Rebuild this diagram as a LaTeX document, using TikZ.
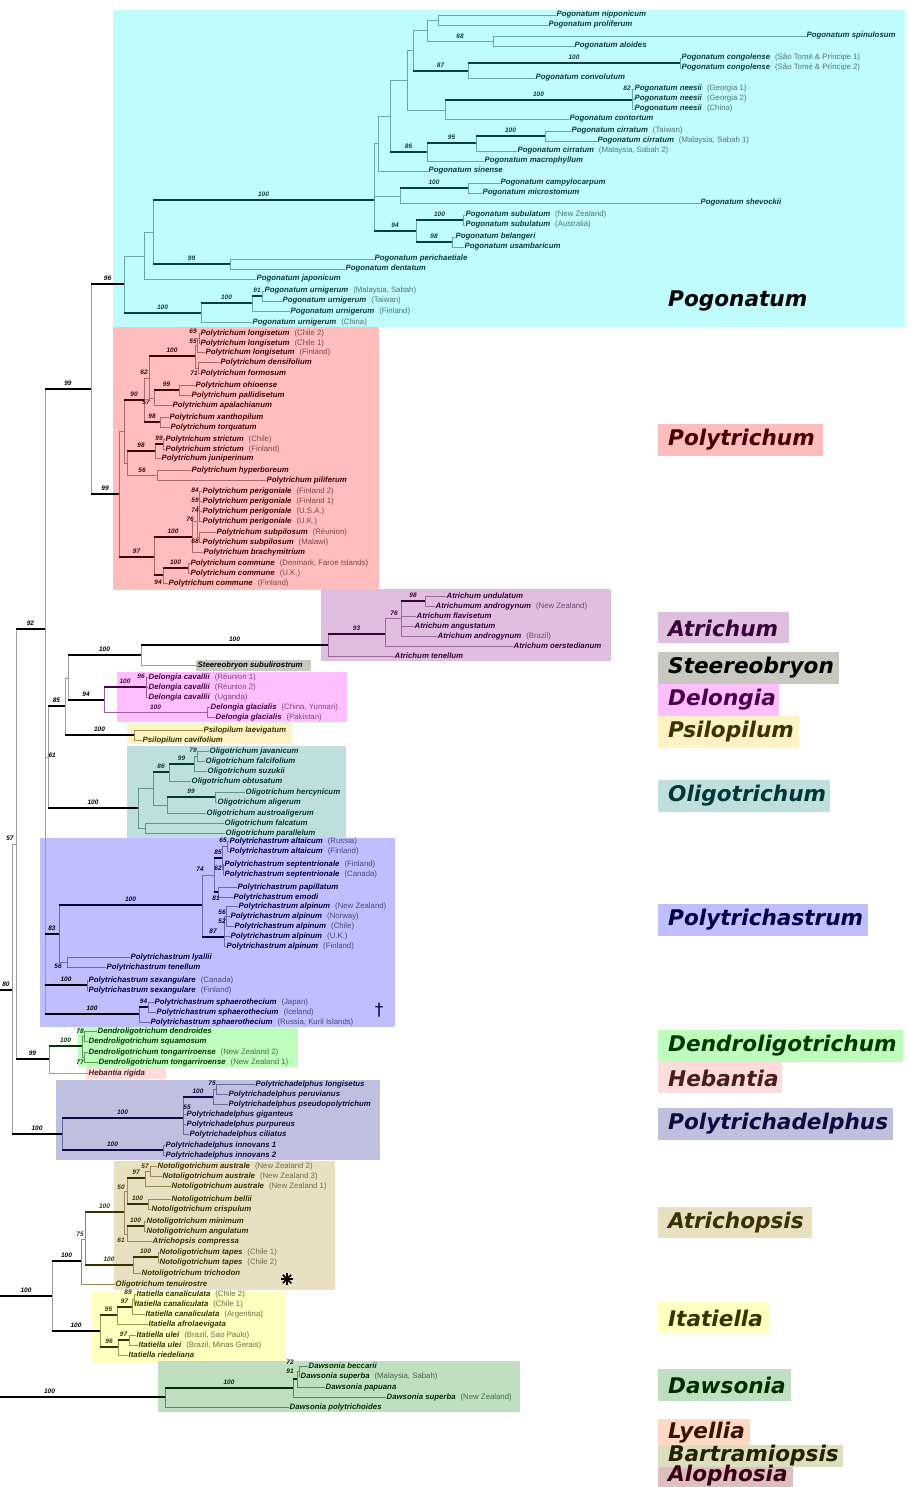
\documentclass[tikz,border=0pt]{standalone}
\usepackage{fontspec}
\setmainfont{Liberation Sans}
\newfontfamily\cladefont{DejaVu Sans Bold Oblique}
\newfontfamily\symfont{DejaVu Sans}
\usetikzlibrary{positioning}

\definecolor{pogB}{HTML}{C0FCFC}\definecolor{pogD}{HTML}{0C3C3C}\definecolor{pogL}{HTML}{66A8A8}
\definecolor{polB}{HTML}{FFBDBD}\definecolor{polD}{HTML}{4A0000}\definecolor{polL}{HTML}{B06868}
\definecolor{atrB}{HTML}{DFBEDF}\definecolor{atrD}{HTML}{3A003A}\definecolor{atrL}{HTML}{9A6A9A}
\definecolor{steB}{HTML}{C8C8C0}
\definecolor{delB}{HTML}{FFBFFF}\definecolor{delD}{HTML}{4A004A}\definecolor{delL}{HTML}{A060A0}
\definecolor{psiB}{HTML}{FFF2C4}\definecolor{psiD}{HTML}{3A3200}\definecolor{psiL}{HTML}{A09050}
\definecolor{oliB}{HTML}{BFDFDF}\definecolor{oliD}{HTML}{003838}\definecolor{oliL}{HTML}{5E9494}
\definecolor{ptaB}{HTML}{BFBFFF}\definecolor{ptaD}{HTML}{00004A}\definecolor{ptaL}{HTML}{6A6AAE}
\definecolor{denB}{HTML}{BFFDBF}\definecolor{denD}{HTML}{003A00}\definecolor{denL}{HTML}{5A9A5A}
\definecolor{hebB}{HTML}{FFDCDC}\definecolor{hebD}{HTML}{4A1C1C}
\definecolor{padB}{HTML}{BFBFDF}\definecolor{padD}{HTML}{0C0C40}\definecolor{padL}{HTML}{6A6AA0}
\definecolor{achB}{HTML}{E8E0C0}\definecolor{achD}{HTML}{3A3000}\definecolor{achL}{HTML}{9A8A5A}
\definecolor{itaB}{HTML}{FFFFC0}\definecolor{itaD}{HTML}{333300}\definecolor{itaL}{HTML}{9A9A4A}
\definecolor{dawB}{HTML}{C0DFC0}\definecolor{dawD}{HTML}{002E00}\definecolor{dawL}{HTML}{5A8A5A}
\definecolor{lyeB}{HTML}{FFD9C4}\definecolor{lyeD}{HTML}{3A1400}
\definecolor{barB}{HTML}{DDDDC0}\definecolor{barD}{HTML}{222200}
\definecolor{aloB}{HTML}{DDBFBF}\definecolor{aloD}{HTML}{3A0014}
\colorlet{dk}{black}
\colorlet{lt}{black!38}

\tikzset{
  br/.style={draw=lt, line width=0.9pt},
  sb/.style={draw=dk, line width=2.8pt},
  sl/.style={inner sep=0.3pt, text=dk, font=\fontsize{6.5}{6.5}\selectfont\bfseries\itshape},
  sv/.style={sl, above=1.6pt},
  lf/.style={anchor=west, inner sep=0.5pt, text=dk, text height=5.6pt, text depth=1.6pt, font=\fontsize{7.8}{8}\selectfont},
  grp/.style={anchor=west, inner sep=0pt, font=\cladefont\fontsize{21.6}{22}\selectfont},
}
\newcommand\taxn[1]{\textbf{\textit{#1}}}
\newcommand\taxl[2]{\textbf{\textit{#1}}\hspace{5pt}{\color{dk!72}(#2)}}
\newcommand\brn[2]{\draw[br] (#1) |- (#2);}
\newcommand\brl[3]{\draw[br] (#1) |- node[sv,pos=.75]{#3} (#2);}
\newcommand\brt[4][]{\draw[br] (#2) |- (#3);\draw[sb] (#2 |- #3) -- node[sv,#1]{#4} (#3);}

\begin{document}
\begin{tikzpicture}[x=1pt,y=-1pt]
\useasboundingbox (0,0) rectangle (910,1487);
% clade boxes
\fill[pogB] (113,10) rectangle (905,327);
\fill[polB] (113,327) rectangle (379,590);
\fill[atrB] (321,589) rectangle (611,661);
\fill[steB] (196,660) rectangle (311,671);
\fill[delB] (117,672) rectangle (347,722);
\fill[psiB] (127,723) rectangle (292,744);
\fill[oliB] (127,746) rectangle (346,838);
\fill[ptaB] (40,838) rectangle (395,1027);
\fill[denB] (78,1027) rectangle (298,1067);
\fill[hebB] (86,1067) rectangle (166,1079);
\fill[padB] (56,1080) rectangle (380,1160);
\fill[achB] (114,1161) rectangle (335,1290);
\fill[itaB] (91,1291) rectangle (286,1363);
\fill[dawB] (158,1361) rectangle (520,1412);

% backbone
\coordinate (r80) at (0,990);
\coordinate (n80) at (12,990);
\coordinate (n57) at (16,844);
\coordinate (n92) at (45,629);
\coordinate (n99) at (91,389);
\coordinate (ny) at (45,871);
\coordinate (n61) at (48,757);
\coordinate (nz) at (45,986);
\coordinate (nz1) at (45,960);
\coordinate (pog) at (124,284);
\coordinate (pol) at (119,494);
\coordinate (n85) at (65,706);
\coordinate (nq) at (68,678);
\coordinate (ast) at (141,655);
\coordinate (del94) at (104,700);
\coordinate (psi) at (134,735);
\coordinate (oli) at (138,808);
\coordinate (n83) at (59,934);
\coordinate (sex) at (87,985);
\coordinate (sph) at (139,1014);
\coordinate (d99) at (49,1059);
\coordinate (pad) at (62,1134);
\coordinate (r100) at (0,1296);
\coordinate (ati) at (52,1296);
\coordinate (ita) at (100,1331);
\coordinate (e100) at (81,1261);
\coordinate (r100b) at (0,1397);
\coordinate (daw) at (165,1397);
\coordinate (a100) at (328,645);
\node[lf,text=black] (sSub) at (197,665) {\taxn{Steereobryon subulirostrum}};
\node[lf,text=hebD] (hRig) at (88,1073) {\taxn{Hebantia rigida}};
\brt{r80}{n80}{80}
\brn{n80}{n57} \brt{n80}{pad}{100}
\brt{n57}{n92}{92} \brt{n57}{d99}{99}
\brt{n92}{n99}{99} \brn{n92}{ny}
\brt{n99}{pog}{96} \brt{n99}{pol}{99}
\brn{ny}{n61} \brn{ny}{nz}
\brn{nz}{nz1} \brt{nz}{sph}{100}
\brt{nz1}{n83}{83} \brt{nz1}{sex}{100}
\brt{n61}{n85}{85} \brt{n61}{oli}{100}
\brn{n85}{nq} \brt{n85}{psi}{100}
\brt{nq}{ast}{100} \brt{nq}{del94}{94}
\brt{ast}{a100}{100} \brn{ast}{sSub}
\brn{d99}{hRig}
\brt{r100}{ati}{100}
\brt{ati}{e100}{100} \brt{ati}{ita}{100}
\brt[pos=.3]{r100b}{daw}{100}
\node[sl] (s57) at (10,838) {57};
\node[sl,anchor=west] (s61) at (48,755) {61};

% Pogonatum
\begin{scope}
\colorlet{dk}{pogD}\colorlet{lt}{pogL}
\coordinate (pB) at (144,256);
\coordinate (pC) at (153,232);
\coordinate (pD) at (374,200);
\coordinate (pE) at (378,143);
\coordinate (pF) at (390,116);
\coordinate (pG) at (407,80);
\coordinate (pH) at (413,50);
\coordinate (pI) at (427,30);
\coordinate (pJ) at (438,20);
\coordinate (p68) at (493,41);
\coordinate (p87) at (468,71);
\coordinate (p100c) at (680,63);
\coordinate (pK) at (445,110);
\coordinate (p100n) at (632,100);
\coordinate (p86) at (427,152);
\coordinate (p95) at (476,143);
\coordinate (p100ci) at (545,136);
\coordinate (pL) at (400,196);
\coordinate (p100ca) at (468,188);
\coordinate (p94) at (416,231);
\coordinate (p100s) at (463,220);
\coordinate (p98) at (452,242);
\coordinate (p99) at (230,264);
\coordinate (p100u) at (201,313);
\coordinate (p100u2) at (252,303);
\coordinate (p91) at (262,296);
\node[lf] (gNip) at (556,15) {\taxn{Pogonatum nipponicum}};
\node[lf] (gPro) at (548,25) {\taxn{Pogonatum proliferum}};
\node[lf] (gSpi) at (806,36) {\taxn{Pogonatum spinulosum}};
\node[lf] (gAlo) at (574,46) {\taxn{Pogonatum aloides}};
\node[lf] (gCo1) at (681,58) {\taxl{Pogonatum congolense}{São Tomé \& Príncipe 1}};
\node[lf] (gCo2) at (681,68) {\taxl{Pogonatum congolense}{São Tomé \& Príncipe 2}};
\node[lf] (gCnv) at (535,78) {\taxn{Pogonatum convolutum}};
\node[lf] (gNe1) at (634,89) {\taxl{Pogonatum neesii}{Georgia 1}};
\node[lf] (gNe2) at (634,99) {\taxl{Pogonatum neesii}{Georgia 2}};
\node[lf] (gNe3) at (634,109) {\taxl{Pogonatum neesii}{China}};
\node[lf] (gCon) at (569,119) {\taxn{Pogonatum contortum}};
\node[lf] (gCi1) at (571,131) {\taxl{Pogonatum cirratum}{Taiwan}};
\node[lf] (gCi2) at (597,141) {\taxl{Pogonatum cirratum}{Malaysia. Sabah 1}};
\node[lf] (gCi3) at (517,151) {\taxl{Pogonatum cirratum}{Malaysia, Sabah 2}};
\node[lf] (gMac) at (484,161) {\taxn{Pogonatum macrophyllum}};
\node[lf] (gSin) at (428,171) {\taxn{Pogonatum sinense}};
\node[lf] (gCam) at (500,183) {\taxn{Pogonatum campylocarpum}};
\node[lf] (gMic) at (482,193) {\taxn{Pogonatum microstomum}};
\node[lf] (gShe) at (700,203) {\taxn{Pogonatum shevockii}};
\node[lf] (gSu1) at (465,215) {\taxl{Pogonatum subulatum}{New Zealand}};
\node[lf] (gSu2) at (465,225) {\taxl{Pogonatum subulatum}{Australia}};
\node[lf] (gBel) at (455,237) {\taxn{Pogonatum belangeri}};
\node[lf] (gUsa) at (464,247) {\taxn{Pogonatum usambaricum}};
\node[lf] (gPer) at (374,259) {\taxn{Pogonatum perichaetiale}};
\node[lf] (gDen) at (345,269) {\taxn{Pogonatum dentatum}};
\node[lf] (gJap) at (256,279) {\taxn{Pogonatum japonicum}};
\node[lf] (gUr1) at (264,291) {\taxl{Pogonatum urnigerum}{Malaysia, Sabah}};
\node[lf] (gUr2) at (282,301) {\taxl{Pogonatum urnigerum}{Taiwan}};
\node[lf] (gUr3) at (290,311) {\taxl{Pogonatum urnigerum}{Finland}};
\node[lf] (gUr4) at (252,322) {\taxl{Pogonatum urnigerum}{China}};
\brn{pog}{pB} \brt{pog}{p100u}{100}
\brn{pB}{pC} \brn{pB}{gJap}
\brt{pC}{pD}{100} \brt{pC}{p99}{99}
\brn{pD}{pE} \brn{pD}{pL} \brt{pD}{p94}{94}
\brn{pE}{pF} \brn{pE}{gSin}
\brn{pF}{pG} \brt{pF}{p86}{86}
\brn{pG}{pH} \brn{pG}{pK}
\brn{pH}{pI} \brt{pH}{p87}{87}
\brn{pI}{pJ} \brl{pI}{p68}{68}
\brn{pJ}{gNip} \brn{pJ}{gPro}
\brn{p68}{gSpi} \brn{p68}{gAlo}
\brt{p87}{p100c}{100} \brn{p87}{gCnv}
\brn{p100c}{gCo1} \brn{p100c}{gCo2}
\brt{pK}{p100n}{100} \brn{pK}{gCon}
\brn{p100n}{gNe1} \brn{p100n}{gNe2} \brn{p100n}{gNe3}
\brt{p86}{p95}{95} \brn{p86}{gMac}
\brt{p95}{p100ci}{100} \brn{p95}{gCi3}
\brn{p100ci}{gCi1} \brn{p100ci}{gCi2}
\brt{pL}{p100ca}{100} \brn{pL}{gShe}
\brn{p100ca}{gCam} \brn{p100ca}{gMic}
\brt{p94}{p100s}{100} \brt{p94}{p98}{98}
\brn{p100s}{gSu1} \brn{p100s}{gSu2}
\brn{p98}{gBel} \brn{p98}{gUsa}
\brn{p99}{gPer} \brn{p99}{gDen}
\brt{p100u}{p100u2}{100} \brn{p100u}{gUr4}
\brt{p100u2}{p91}{91} \brn{p100u2}{gUr3}
\brn{p91}{gUr1} \brn{p91}{gUr2}
\node[sl] (s82) at (627,88) {82};
\end{scope}

% Polytrichum
\begin{scope}
\colorlet{dk}{polD}\colorlet{lt}{polL}
\coordinate (tU) at (124,431);
\coordinate (t90) at (144,400);
\coordinate (t62) at (149,378);
\coordinate (t100) at (195,356);
\coordinate (tL2) at (197,345);
\coordinate (tCh) at (199,338);
\coordinate (tL3) at (198,368);
\coordinate (t57) at (154,398);
\coordinate (t99) at (179,390);
\coordinate (t98) at (160,422);
\coordinate (tV) at (127,463);
\coordinate (t98b) at (155,451);
\coordinate (t99b) at (163,444);
\coordinate (t56) at (157,475);
\coordinate (t97) at (154,557);
\coordinate (t100p) at (192,537);
\coordinate (tX1) at (197,521);
\coordinate (tPg) at (199,506);
\coordinate (tSp) at (199,537);
\coordinate (tW) at (163,575);
\coordinate (t100c) at (188,568);
\node[lf] (tLo1) at (200,333) {\taxl{Polytrichum longisetum}{Chile 2}};
\node[lf] (tLo2) at (200,343) {\taxl{Polytrichum longisetum}{Chile 1}};
\node[lf] (tLo3) at (205,352) {\taxl{Polytrichum longisetum}{Finland}};
\node[lf] (tDen) at (220,362) {\taxn{Polytrichum densifolium}};
\node[lf] (tFor) at (200,373) {\taxn{Polytrichum formosum}};
\node[lf] (tOhi) at (195,385) {\taxn{Polytrichum ohioense}};
\node[lf] (tPal) at (191,395) {\taxn{Polytrichum pallidisetum}};
\node[lf] (tApa) at (172,405) {\taxn{Polytrichum apalachianum}};
\node[lf] (tXan) at (169,417) {\taxn{Polytrichum xanthopilum}};
\node[lf] (tTor) at (170,427) {\taxn{Polytrichum torquatum}};
\node[lf] (tSt1) at (165,439) {\taxl{Polytrichum strictum}{Chile}};
\node[lf] (tSt2) at (165,449) {\taxl{Polytrichum strictum}{Finland}};
\node[lf] (tJun) at (161,458) {\taxn{Polytrichum juniperinum}};
\node[lf] (tHyp) at (191,470) {\taxn{Polytrichum hyperboreum}};
\node[lf] (tPil) at (266,480) {\taxn{Polytrichum piliferum}};
\node[lf] (tPe1) at (202,491) {\taxl{Polytrichum perigoniale}{Finland 2}};
\node[lf] (tPe2) at (202,501) {\taxl{Polytrichum perigoniale}{Finland 1}};
\node[lf] (tPe3) at (202,511) {\taxl{Polytrichum perigoniale}{U.S.A.}};
\node[lf] (tPe4) at (202,521) {\taxl{Polytrichum perigoniale}{U.K.}};
\node[lf] (tSu1) at (216,532) {\taxl{Polytrichum subpilosum}{Réunion}};
\node[lf] (tSu2) at (202,542) {\taxl{Polytrichum subpilosum}{Malawi}};
\node[lf] (tBra) at (203,552) {\taxn{Polytrichum brachymitrium}};
\node[lf] (tCo1) at (190,563) {\taxl{Polytrichum commune}{Denmark, Faroe Islands}};
\node[lf] (tCo2) at (190,573) {\taxl{Polytrichum commune}{U.K.}};
\node[lf] (tCo3) at (168,583) {\taxl{Polytrichum commune}{Finland}};
\brn{pol}{tU} \brt{pol}{t97}{97}
\brt{tU}{t90}{90} \brn{tU}{tV}
\brn{t90}{t62} \brt{t90}{t98}{98}
\brt{t62}{t100}{100} \brn{t62}{t57}
\brn{t100}{tL2} \brn{t100}{tL3}
\brn{tL2}{tCh} \brn{tL2}{tLo3}
\brn{tCh}{tLo1} \brn{tCh}{tLo2}
\brn{tL3}{tDen} \brn{tL3}{tFor}
\brt{t57}{t99}{99} \brn{t57}{tApa}
\brn{t99}{tOhi} \brn{t99}{tPal}
\brn{t98}{tXan} \brn{t98}{tTor}
\brt{tV}{t98b}{98} \brl{tV}{t56}{56}
\brt{t98b}{t99b}{99} \brn{t98b}{tJun}
\brn{t99b}{tSt1} \brn{t99b}{tSt2}
\brn{t56}{tHyp} \brn{t56}{tPil}
\brt{t97}{t100p}{100} \brt{t97}{tW}{}
\brn{t100p}{tX1} \brn{t100p}{tBra}
\brn{tX1}{tPg} \brn{tX1}{tSp}
\brn{tPg}{tPe1} \brn{tPg}{tPe2} \brn{tPg}{tPe3} \brn{tPg}{tPe4}
\brn{tSp}{tSu1} \brn{tSp}{tSu2}
\brt{tW}{t100c}{100} \brn{tW}{tCo3}
\brn{t100c}{tCo1} \brn{t100c}{tCo2}
\node[sl] (s62) at (144,372) {62};
\node[sl] (s57b) at (146,402) {57};
\node[sl] (s69) at (193,331) {69};
\node[sl] (s55) at (193,341) {55};
\node[sl] (s71) at (194,373) {71};
\node[sl] (s84) at (195,490) {84};
\node[sl] (s59) at (195,500) {59};
\node[sl] (s74) at (195,510) {74};
\node[sl] (s76) at (190,519) {76};
\node[sl] (s68) at (195,541) {68};
\node[sl] (s94) at (158,582) {94};
\end{scope}

% Atrichum
\begin{scope}
\colorlet{dk}{atrD}\colorlet{lt}{atrL}
\coordinate (a93) at (385,634);
\coordinate (a76) at (401,618);
\coordinate (a98) at (425,601);
\node[lf] (aUnd) at (446,596) {\taxn{Atrichum undulatum}};
\node[lf] (aAnz) at (435,606) {\taxl{Atrichumum androgynum}{New Zealand}};
\node[lf] (aFla) at (416,616) {\taxn{Atrichum flavisetum}};
\node[lf] (aAng) at (414,626) {\taxn{Atrichum angustatum}};
\node[lf] (aAbr) at (437,636) {\taxl{Atrichum androgynum}{Brazil}};
\node[lf] (aOer) at (513,646) {\taxn{Atrichum oerstedianum}};
\node[lf] (aTen) at (394,656) {\taxn{Atrichum tenellum}};
\brt{a100}{a93}{93} \brn{a100}{aTen}
\brn{a93}{a76} \brn{a93}{aOer}
\brt{a76}{a98}{98} \brn{a76}{aFla} \brn{a76}{aAng} \brn{a76}{aAbr}
\brn{a98}{aUnd} \brn{a98}{aAnz}
\node[sl] (s76b) at (394,613) {76};
\end{scope}

% Delongia
\begin{scope}
\colorlet{dk}{delD}\colorlet{lt}{delL}
\coordinate (d100) at (146,687);
\coordinate (dGl) at (207,712);
\node[lf] (dCa1) at (148,677) {\taxl{Delongia cavallii}{Réunion 1}};
\node[lf] (dCa2) at (148,687) {\taxl{Delongia cavallii}{Réunion 2}};
\node[lf] (dCa3) at (148,697) {\taxl{Delongia cavallii}{Uganda}};
\node[lf] (dGl1) at (210,707) {\taxl{Delongia glacialis}{China, Yunnan}};
\node[lf] (dGl2) at (215,717) {\taxl{Delongia glacialis}{Pakistan}};
\brt{del94}{d100}{100} \brl{del94}{dGl}{100}
\brn{d100}{dCa1} \brn{d100}{dCa2} \brn{d100}{dCa3}
\brn{dGl}{dGl1} \brn{dGl}{dGl2}
\node[sl] (s96) at (141,676) {96};
\end{scope}

% Psilopilum
\begin{scope}
\colorlet{dk}{psiD}\colorlet{lt}{psiL}
\node[lf] (sLae) at (203,730) {\taxn{Psilopilum laevigatum}};
\node[lf] (sCav) at (142,740) {\taxn{Psilopilum cavifolium}};
\brn{psi}{sLae} \brn{psi}{sCav}
\end{scope}

% Oligotrichum
\begin{scope}
\colorlet{dk}{oliD}\colorlet{lt}{oliL}
\coordinate (o1) at (153,788);
\coordinate (o86) at (169,772);
\coordinate (o99) at (194,764);
\coordinate (o79) at (197,756);
\coordinate (o3) at (167,805);
\coordinate (o99b) at (215,797);
\coordinate (o2) at (145,828);
\node[lf] (oJav) at (209,751) {\taxn{Oligotrichum javanicum}};
\node[lf] (oFal) at (205,761) {\taxn{Oligotrichum falcifolium}};
\node[lf] (oSuz) at (207,771) {\taxn{Oligotrichum suzukii}};
\node[lf] (oObt) at (191,781) {\taxn{Oligotrichum obtusatum}};
\node[lf] (oHer) at (245,792) {\taxn{Oligotrichum hercynicum}};
\node[lf] (oAli) at (217,802) {\taxn{Oligotrichum aligerum}};
\node[lf] (oAus) at (206,813) {\taxn{Oligotrichum austroaligerum}};
\node[lf] (oFac) at (224,823) {\taxn{Oligotrichum falcatum}};
\node[lf] (oPar) at (225,833) {\taxn{Oligotrichum parallelum}};
\brn{oli}{o1} \brn{oli}{o2}
\brt{o1}{o86}{86} \brn{o1}{o3}
\brt{o86}{o99}{99} \brn{o86}{oObt}
\brn{o99}{o79} \brn{o99}{oSuz}
\brn{o79}{oJav} \brn{o79}{oFal}
\brt{o3}{o99b}{99} \brn{o3}{oAus}
\brn{o99b}{oHer} \brn{o99b}{oAli}
\brn{o2}{oFac} \brn{o2}{oPar}
\node[sl] (s79) at (193,750) {79};
\end{scope}

% Polytrichastrum
\begin{scope}
\colorlet{dk}{ptaD}\colorlet{lt}{ptaL}
\coordinate (c100) at (202,905);
\coordinate (c74) at (214,875);
\coordinate (c85) at (222,858);
\coordinate (cAl) at (227,846);
\coordinate (cSe) at (223,869);
\coordinate (c81) at (218,892);
\coordinate (c87) at (224,937);
\coordinate (c56a) at (226,916);
\coordinate (c56) at (67,962);
\coordinate (c94) at (148,1007);
\node[lf] (cAl1) at (229,841) {\taxl{Polytrichastrum altaicum}{Russia}};
\node[lf] (cAl2) at (229,851) {\taxl{Polytrichastrum altaicum}{Finland}};
\node[lf] (cSe1) at (224,864) {\taxl{Polytrichastrum septentrionale}{Finland}};
\node[lf] (cSe2) at (224,874) {\taxl{Polytrichastrum septentrionale}{Canada}};
\node[lf] (cPap) at (237,887) {\taxn{Polytrichastrum papillatum}};
\node[lf] (cEmo) at (233,897) {\taxn{Polytrichastrum emodi}};
\node[lf] (cAp1) at (238,906) {\taxl{Polytrichastrum alpinum}{New Zealand}};
\node[lf] (cAp2) at (230,916) {\taxl{Polytrichastrum alpinum}{Norway}};
\node[lf] (cAp3) at (234,926) {\taxl{Polytrichastrum alpinum}{Chile}};
\node[lf] (cAp4) at (230,936) {\taxl{Polytrichastrum alpinum}{U.K.}};
\node[lf] (cAp5) at (226,946) {\taxl{Polytrichastrum alpinum}{Finland}};
\node[lf] (cLya) at (130,957) {\taxn{Polytrichastrum lyallii}};
\node[lf] (cTen) at (106,967) {\taxn{Polytrichastrum tenellum}};
\node[lf] (cSx1) at (88,980) {\taxl{Polytrichastrum sexangulare}{Canada}};
\node[lf] (cSx2) at (88,990) {\taxl{Polytrichastrum sexangulare}{Finland}};
\node[lf] (cSp1) at (154,1002) {\taxl{Polytrichastrum sphaerothecium}{Japan}};
\node[lf] (cSp2) at (156,1012) {\taxl{Polytrichastrum sphaerothecium}{Iceland}};
\node[lf] (cSp3) at (150,1022) {\taxl{Polytrichastrum sphaerothecium}{Russia, Kuril Islands}};
\brt{n83}{c100}{100} \brn{n83}{c56}
\brn{c100}{c74} \brt{c100}{c87}{87}
\brt{c74}{c85}{85} \brt{c74}{c81}{}
\brn{c85}{cAl} \brn{c85}{cSe}
\brn{cAl}{cAl1} \brn{cAl}{cAl2}
\brn{cSe}{cSe1} \brn{cSe}{cSe2}
\brn{c81}{cPap} \brn{c81}{cEmo}
\brn{c87}{c56a} \brn{c87}{cAp4} \brn{c87}{cAp5}
\brn{c56a}{cAp1} \brn{c56a}{cAp2} \brn{c56a}{cAp3}
\brn{c56}{cLya} \brn{c56}{cTen}
\brn{sex}{cSx1} \brn{sex}{cSx2}
\brt{sph}{c94}{94} \brn{sph}{cSp3}
\brn{c94}{cSp1} \brn{c94}{cSp2}
\node[sl] (s65) at (223,840) {65};
\node[sl] (s62b) at (218,868) {62};
\node[sl] (s74b) at (200,869) {74};
\node[sl] (s81) at (216,898) {81};
\node[sl] (s56b) at (222,912) {56};
\node[sl] (s52) at (222,921) {52};
\node[sl] (s56c) at (58,966) {56};
\node[inner sep=0pt, text=ptaD, font=\symfont\fontsize{17}{17}\selectfont] (dag) at (379,1010) {†};
\end{scope}

% Dendroligotrichum
\begin{scope}
\colorlet{dk}{denD}\colorlet{lt}{denL}
\coordinate (dn100) at (82,1046);
\coordinate (d78) at (84,1036);
\coordinate (d77) at (84,1057);
\node[lf] (eDen) at (97,1031) {\taxn{Dendroligotrichum dendroides}};
\node[lf] (eSqu) at (88,1041) {\taxn{Dendroligotrichum squamosum}};
\node[lf] (eTo1) at (88,1052) {\taxl{Dendroligotrichum tongarriroense}{New Zealand 2}};
\node[lf] (eTo2) at (98,1062) {\taxl{Dendroligotrichum tongarriroense}{New Zealand 1}};
\brt{d99}{dn100}{100}
\brn{dn100}{d78} \brn{dn100}{d77}
\brn{d78}{eDen} \brn{d78}{eSqu}
\brn{d77}{eTo1} \brn{d77}{eTo2}
\node[sl] (s78) at (80,1031) {78};
\node[sl] (s77) at (80,1062) {77};
\end{scope}

% Polytrichadelphus
\begin{scope}
\colorlet{dk}{padD}\colorlet{lt}{padL}
\coordinate (ad100) at (183,1118);
\coordinate (ad100b) at (213,1097);
\coordinate (ad75) at (216,1089);
\coordinate (inn) at (163,1150);
\node[lf] (fLon) at (255,1084) {\taxn{Polytrichadelphus longisetus}};
\node[lf] (fPer) at (228,1094) {\taxn{Polytrichadelphus peruvianus}};
\node[lf] (fPse) at (228,1104) {\taxn{Polytrichadelphus pseudopolytrichum}};
\node[lf] (fGig) at (186,1114) {\taxn{Polytrichadelphus giganteus}};
\node[lf] (fPur) at (186,1124) {\taxn{Polytrichadelphus purpureus}};
\node[lf] (fCil) at (189,1134) {\taxn{Polytrichadelphus ciliatus}};
\node[lf] (fIn1) at (165,1145) {\taxn{Polytrichadelphus innovans 1}};
\node[lf] (fIn2) at (165,1155) {\taxn{Polytrichadelphus innovans 2}};
\brt{pad}{ad100}{100} \brt{pad}{inn}{100}
\brt{ad100}{ad100b}{100} \brn{ad100}{fGig} \brn{ad100}{fPur} \brn{ad100}{fCil}
\brn{ad100b}{ad75} \brn{ad100b}{fPse}
\brn{ad75}{fLon} \brn{ad75}{fPer}
\brn{inn}{fIn1} \brn{inn}{fIn2}
\node[sl] (s75) at (212,1083) {75};
\node[sl] (s55b) at (187,1107) {55};
\end{scope}

% Atrichopsis
\begin{scope}
\colorlet{dk}{achD}\colorlet{lt}{achL}
\coordinate (e75) at (85,1239);
\coordinate (e100a) at (124,1212);
\coordinate (e50) at (127,1191);
\coordinate (e97) at (145,1178);
\coordinate (e57) at (150,1171);
\coordinate (e100b) at (148,1204);
\coordinate (e61) at (127,1234);
\coordinate (e100m) at (144,1226);
\coordinate (e100t) at (133,1265);
\coordinate (e100tp) at (158,1257);
\node[lf] (hAu2) at (157,1166) {\taxl{Notoligotrichum australe}{New Zealand 2}};
\node[lf] (hAu3) at (162,1176) {\taxl{Notoligotrichum australe}{New Zealand 3}};
\node[lf] (hAu1) at (171,1186) {\taxl{Notoligotrichum australe}{New Zealand 1}};
\node[lf] (hBel) at (171,1199) {\taxn{Notoligotrichum bellii}};
\node[lf] (hCri) at (151,1209) {\taxn{Notoligotrichum crispulum}};
\node[lf] (hMin) at (146,1221) {\taxn{Notoligotrichum minimum}};
\node[lf] (hAng) at (146,1231) {\taxn{Notoligotrichum angulatum}};
\node[lf] (hCom) at (152,1241) {\taxn{Atrichopsis compressa}};
\node[lf] (hTa1) at (159,1252) {\taxl{Notoligotrichum tapes}{Chile 1}};
\node[lf] (hTa2) at (159,1262) {\taxl{Notoligotrichum tapes}{Chile 2}};
\node[lf] (hTri) at (141,1273) {\taxn{Notoligotrichum trichodon}};
\node[lf] (hTen) at (115,1284) {\taxn{Oligotrichum tenuirostre}};
\brn{e100}{e75} \brn{e100}{hTen}
\brt{e75}{e100a}{100} \brt{e75}{e100t}{100}
\brn{e100a}{e50} \brn{e100a}{e61}
\brt{e50}{e97}{97} \brt{e50}{e100b}{100}
\brn{e97}{e57} \brn{e97}{hAu1}
\brn{e57}{hAu2} \brn{e57}{hAu3}
\brn{e100b}{hBel} \brn{e100b}{hCri}
\brt{e61}{e100m}{100} \brn{e61}{hCom}
\brn{e100m}{hMin} \brn{e100m}{hAng}
\brt{e100t}{e100tp}{100} \brn{e100t}{hTri}
\brn{e100tp}{hTa1} \brn{e100tp}{hTa2}
\node[sl] (s75b) at (80,1234) {75};
\node[sl] (s50) at (121,1187) {50};
\node[sl] (s61b) at (121,1240) {61};
\node[sl] (s57c) at (145,1166) {57};
\foreach \a in {0,45,90,135}
  \draw[line width=1.6pt, black] (287,1279) ++(\a:6) -- ++(\a+180:12);
\end{scope}

% Itatiella
\begin{scope}
\colorlet{dk}{itaD}\colorlet{lt}{itaL}
\coordinate (i95) at (117,1315);
\coordinate (i97) at (132,1307);
\coordinate (i89) at (134,1299);
\coordinate (i96) at (118,1347);
\coordinate (i97b) at (129,1340);
\node[lf] (iCa1) at (136,1294) {\taxl{Itatiella canaliculata}{Chile 2}};
\node[lf] (iCa2) at (134,1304) {\taxl{Itatiella canaliculata}{Chile 1}};
\node[lf] (iCa3) at (145,1314) {\taxl{Itatiella canaliculata}{Argentina}};
\node[lf] (iAfr) at (148,1324) {\taxn{Itatiella afrolaevigata}};
\node[lf] (iUl1) at (136,1335) {\taxl{Itatiella ulei}{Brazil, Sao Paulo}};
\node[lf] (iUl2) at (138,1345) {\taxl{Itatiella ulei}{Brazil, Minas Gerais}};
\node[lf] (iRie) at (128,1355) {\taxn{Itatiella riedeliana}};
\brt{ita}{i95}{95} \brt{ita}{i96}{96}
\brt{i95}{i97}{97} \brn{i95}{iAfr}
\brn{i97}{i89} \brn{i97}{iCa3}
\brn{i89}{iCa1} \brn{i89}{iCa2}
\brt{i96}{i97b}{97} \brn{i96}{iRie}
\brn{i97b}{iUl1} \brn{i97b}{iUl2}
\node[sl] (s89) at (128,1292) {89};
\end{scope}

% Dawsonia
\begin{scope}
\colorlet{dk}{dawD}\colorlet{lt}{dawL}
\coordinate (w100) at (293,1388);
\coordinate (w91) at (297,1379);
\coordinate (w72) at (299,1371);
\node[lf] (wBec) at (308,1366) {\taxn{Dawsonia beccarii}};
\node[lf] (wSab) at (300,1376) {\taxl{Dawsonia superba}{Malaysia, Sabah}};
\node[lf] (wPap) at (325,1387) {\taxn{Dawsonia papuana}};
\node[lf] (wNz) at (386,1397) {\taxl{Dawsonia superba}{New Zealand}};
\node[lf] (wPol) at (289,1407) {\taxn{Dawsonia polytrichoides}};
\brt{daw}{w100}{100} \brn{daw}{wPol}
\brt{w100}{w91}{} \brn{w100}{wNz}
\brn{w91}{w72} \brn{w91}{wPap}
\brn{w72}{wBec} \brn{w72}{wSab}
\node[sl] (s72) at (290,1362) {72};
\node[sl] (s91) at (290,1371) {91};
\end{scope}

% genus labels
\node[grp,text=black] (LPogonatum) at (668,301) {Pogonatum};
\fill[polB] (658,424) rectangle (823,456); \node[grp,text=polD] (LPolytrichum) at (668,440) {Polytrichum};
\fill[atrB] (658,612) rectangle (789,643); \node[grp,text=atrD] (LAtrichum) at (668,628) {Atrichum};
\fill[steB] (658,652) rectangle (839,684); \node[grp,text=black] (LSteereobryon) at (668,668) {Steereobryon};
\fill[delB] (658,684) rectangle (779,716); \node[grp,text=delD] (LDelongia) at (668,700) {Delongia};
\fill[psiB] (658,716) rectangle (799,748); \node[grp,text=psiD] (LPsilopilum) at (668,732) {Psilopilum};
\fill[oliB] (658,780) rectangle (830,812); \node[grp,text=oliD] (LOligotrichum) at (668,796) {Oligotrichum};
\fill[ptaB] (658,904) rectangle (868,936); \node[grp,text=ptaD] (LPolytrichastrum) at (668,920) {Polytrichastrum};
\fill[denB] (658,1030) rectangle (903,1062); \node[grp,text=denD] (LDendroligotrichum) at (668,1046) {Dendroligotrichum};
\fill[hebB] (658,1062) rectangle (782,1093); \node[grp,text=hebD] (LHebantia) at (668,1078) {Hebantia};
\fill[padB] (658,1108) rectangle (893,1140); \node[grp,text=padD] (LPolytrichadelphus) at (668,1124) {Polytrichadelphus};
\fill[achB] (658,1207) rectangle (812,1238); \node[grp,text=achD] (LAtrichopsis) at (668,1223) {Atrichopsis};
\fill[itaB] (658,1302) rectangle (769,1334); \node[grp,text=itaD] (LItatiella) at (668,1318) {Itatiella};
\fill[dawB] (658,1369) rectangle (791,1401); \node[grp,text=dawD] (LDawsonia) at (668,1385) {Dawsonia};
\fill[lyeB] (658,1419) rectangle (750,1445); \node[grp,text=lyeD] (LLyellia) at (668,1433) {Lyellia};
\fill[barB] (658,1445) rectangle (843,1467); \node[grp,text=barD] (LBartramiopsis) at (668,1456) {Bartramiopsis};
\fill[aloB] (658,1467) rectangle (793,1487); \node[grp,text=aloD] (LAlophosia) at (668,1476) {Alophosia};
\end{tikzpicture}
\end{document}
